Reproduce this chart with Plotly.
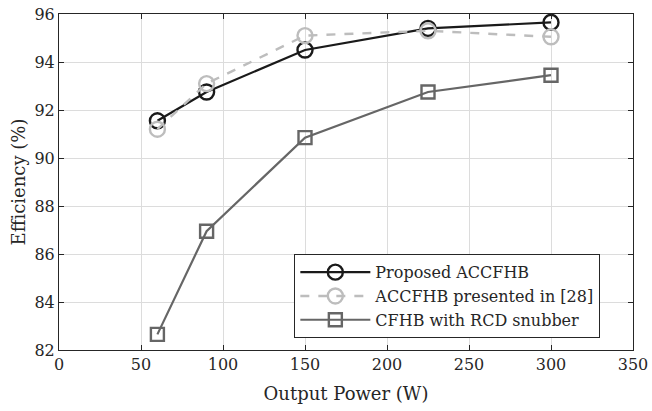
import plotly.graph_objects as go

power = [60, 90, 150, 225, 300]
proposed = [91.55, 92.75, 94.5, 95.4, 95.65]
presented28 = [91.2, 93.1, 95.1, 95.3, 95.05]
cfhb_rcd = [82.65, 86.95, 90.85, 92.75, 93.45]

x_ticks = [0, 50, 100, 150, 200, 250, 300, 350]
y_ticks = [82, 84, 86, 88, 90, 92, 94, 96]

FONT = "DejaVu Serif"

fig = go.Figure()
fig.add_trace(go.Scatter(x=power, y=proposed, name="Proposed ACCFHB", mode="lines+markers",
                         line=dict(color="#1a1a1a", width=2.2),
                         marker=dict(symbol="circle-open", size=15, color="#1a1a1a", line=dict(width=2.4))))
fig.add_trace(go.Scatter(x=power, y=presented28, name="ACCFHB presented in [28]", mode="lines+markers",
                         line=dict(color="#bdbdbd", width=2.4, dash="dash"),
                         marker=dict(symbol="circle-open", size=15, color="#bdbdbd", line=dict(width=2.4))))
fig.add_trace(go.Scatter(x=power, y=cfhb_rcd, name="CFHB with RCD snubber", mode="lines+markers",
                         line=dict(color="#666666", width=2.2),
                         marker=dict(symbol="square-open", size=13, color="#666666", line=dict(width=2.4))))

axis_common = dict(showgrid=True, gridcolor="#dcdcdc", gridwidth=1, showline=True, linecolor="#262626",
                   linewidth=1, mirror="ticks", ticks="inside", ticklen=5, tickcolor="#262626",
                   zeroline=False, automargin=False,
                   tickfont=dict(family=FONT, size=16, color="#262626"))

fig.update_xaxes(range=[0, 350], tickvals=x_ticks, title=dict(text="Output Power (W)", standoff=14,
                 font=dict(family=FONT, size=18, color="#262626")), **axis_common)
fig.update_yaxes(range=[82, 96], tickvals=y_ticks, title=dict(text="Efficiency (%)", standoff=4,
                 font=dict(family=FONT, size=18, color="#262626")), **axis_common)

fig.update_layout(width=652, height=411, margin=dict(l=59, r=19, t=14, b=61),
                  plot_bgcolor="white", paper_bgcolor="white",
                  font=dict(family=FONT),
                  legend=dict(x=0.41, y=0.285, xanchor="left", yanchor="top", bgcolor="white",
                              bordercolor="#262626", borderwidth=1,
                              font=dict(family=FONT, size=16, color="#262626"),
                              tracegroupgap=0, itemwidth=70),
                  showlegend=True)

fig.write_html("out.html")
